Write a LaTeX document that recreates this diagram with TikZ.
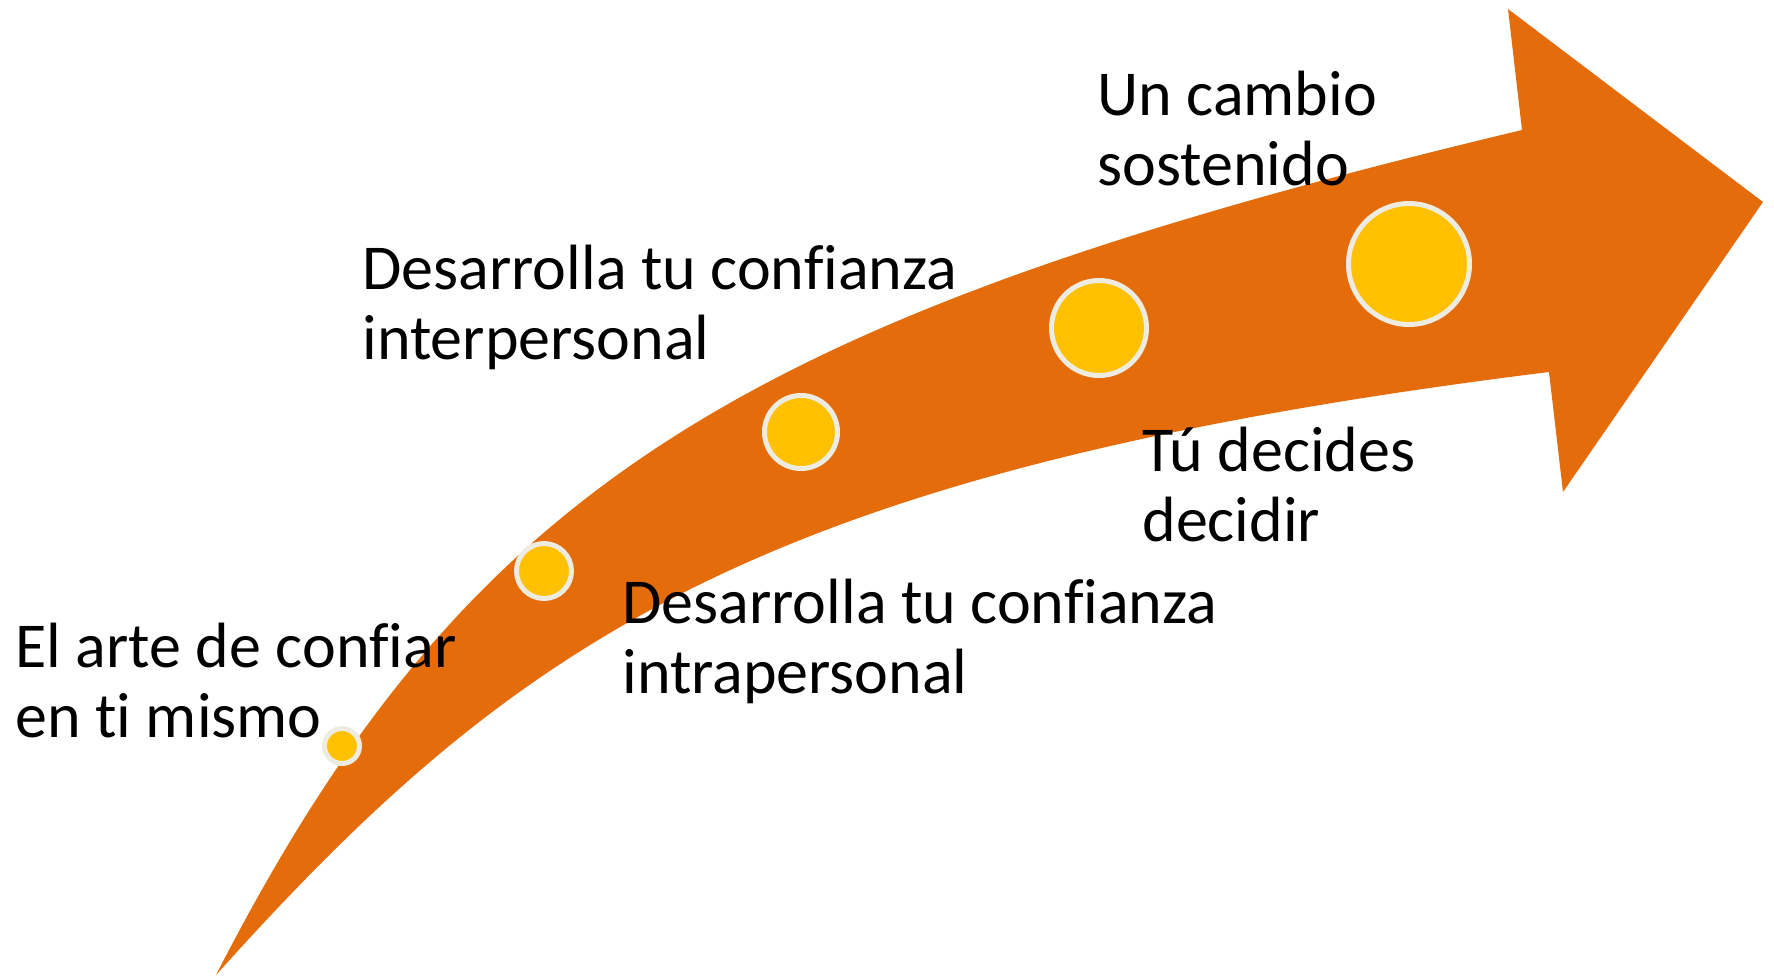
\documentclass[tikz,border=0pt]{standalone}
\usepackage{fontspec}
\setmainfont{Carlito}[Ligatures={NoCommon}]
\usetikzlibrary{positioning}

\definecolor{arroworange}{HTML}{E46C0A}
\definecolor{dotyellow}{HTML}{FFC000}
\definecolor{dotrim}{HTML}{EEECE1}

\begin{document}
\begin{tikzpicture}[x=0.5pt,y=-0.5pt,
    dot/.style={circle,draw=dotrim,fill=dotyellow,line width=2.5pt,inner sep=0pt,minimum size=#1},
    steptext/.style={anchor=base west,align=left,inner sep=0pt,font=\fontsize{32}{35}\selectfont}]

  \useasboundingbox (0,0) rectangle (1774,976);

  % the curved arrow
  \fill [arroworange] (216,975) .. controls (466,488) and (736,318) .. (1522,130)
    -- (1508,9) -- (1763,202) -- (1563,492) -- (1549,372)
    .. controls (760,470) and (517,640) .. (216,975) -- cycle;

  % the five steps
  \node [dot=17.5pt] (dot_1) at (342,746) {};
  \node [dot=27.5pt] (dot_2) at (544,571) {};
  \node [dot=36.5pt] (dot_3) at (801,432) {};
  \node [dot=47.5pt] (dot_4) at (1099,328) {};
  \node [dot=60.5pt] (dot_5) at (1409,264) {};

  % base west of a two-line node sits on its last line
  \node [steptext] (text_1) at (15,737) {El arte de confiar\\en ti mismo};
  \node [steptext] (text_2) at (622,693) {Desarrolla tu confianza\\intrapersonal};
  \node [steptext] (text_3) at (362,359) {Desarrolla tu confianza\\interpersonal};
  \node [steptext] (text_4) at (1142,541) {Tú decides\\decidir};
  \node [steptext] (text_5) at (1097,185) {Un cambio\\sostenido};

\end{tikzpicture}
\end{document}
